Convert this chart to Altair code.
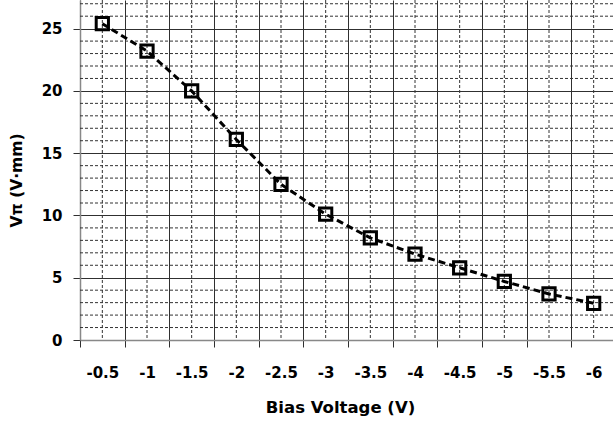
import altair as alt
import pandas as pd

bias = ["-0.5", "-1", "-1.5", "-2", "-2.5", "-3", "-3.5", "-4", "-4.5", "-5", "-5.5", "-6"]
vpi = [25.4, 23.2, 20.0, 16.1, 12.5, 10.1, 8.2, 6.9, 5.8, 4.7, 3.7, 2.95]
major_y = [0, 5, 10, 15, 20, 25]
minor_y = [v for v in range(1, 28) if v % 5 != 0]

df = pd.DataFrame({"bias": bias, "vpi": vpi})
df_minor = pd.DataFrame({"v": minor_y})
df_cat = pd.DataFrame({"bias": bias})

FONT = "DejaVu Sans"
W = 533
H = 340

xscale = alt.Scale(domain=bias, range=[0, 536], paddingInner=0, paddingOuter=0)
yscale = alt.Scale(domain=[0, 27.3], nice=False, zero=False)

xaxis = alt.Axis(
    title="Bias Voltage (V)", tickBand="extent", grid=True, gridColor="#303030",
    gridWidth=1, domainColor="#888888", domainWidth=1.5, tickColor="#303030",
    tickSize=7, labelAngle=0, labelFont=FONT, labelFontWeight="bold",
    labelFontSize=15, labelColor="black", labelBaseline="middle", labelPadding=25,
    titleFont=FONT, titleFontWeight="bold", titleFontSize=16.5, titleColor="black",
    titleX=260, titleY=67, titleBaseline="middle", titleAlign="center",
)
yaxis = alt.Axis(
    title="Vπ (V·mm)", values=major_y, grid=True, gridColor="#303030", gridWidth=1,
    domainColor="#888888", domainWidth=1.5, tickColor="#303030", tickSize=7,
    labelFont=FONT, labelFontWeight="bold", labelFontSize=15, labelColor="black",
    labelPadding=11, titleFont=FONT, titleFontWeight="bold", titleFontSize=15.5,
    titleColor="black", titleX=-64, titleY=180, titleAngle=270,
    titleAlign="center", titleBaseline="middle",
)

hminor = alt.Chart(df_minor).mark_rule(color="#333333", strokeWidth=1, strokeDash=[3, 2]).encode(
    y=alt.Y("v:Q", scale=yscale, axis=yaxis),
    x=alt.value(0), x2=alt.value(536),
)
vminor = alt.Chart(df_cat).mark_rule(color="#333333", strokeWidth=1, strokeDash=[3, 2]).encode(
    x=alt.X("bias:O", sort=bias, scale=xscale, axis=xaxis),
    y=alt.value(0), y2=alt.value(H),
)
line = alt.Chart(df).mark_line(color="black", strokeWidth=3, strokeDash=[7, 4]).encode(
    x=alt.X("bias:O", sort=bias, scale=xscale, axis=xaxis),
    y=alt.Y("vpi:Q", scale=yscale, axis=yaxis),
)
pts = alt.Chart(df).mark_point(shape="square", size=150, filled=False, color="black",
                               strokeWidth=3, opacity=1).encode(
    x=alt.X("bias:O", sort=bias, scale=xscale, axis=xaxis),
    y=alt.Y("vpi:Q", scale=yscale, axis=yaxis),
)

chart = alt.layer(hminor, vminor, line, pts).properties(
    width=W, height=H,
    autosize=alt.AutoSizeParams(type="none"),
    padding={"left": 80, "top": 0, "right": 0, "bottom": 81},
    background="white",
).configure_view(stroke=None)

chart.save("out.html", embed_options={"renderer": "svg", "actions": False})
